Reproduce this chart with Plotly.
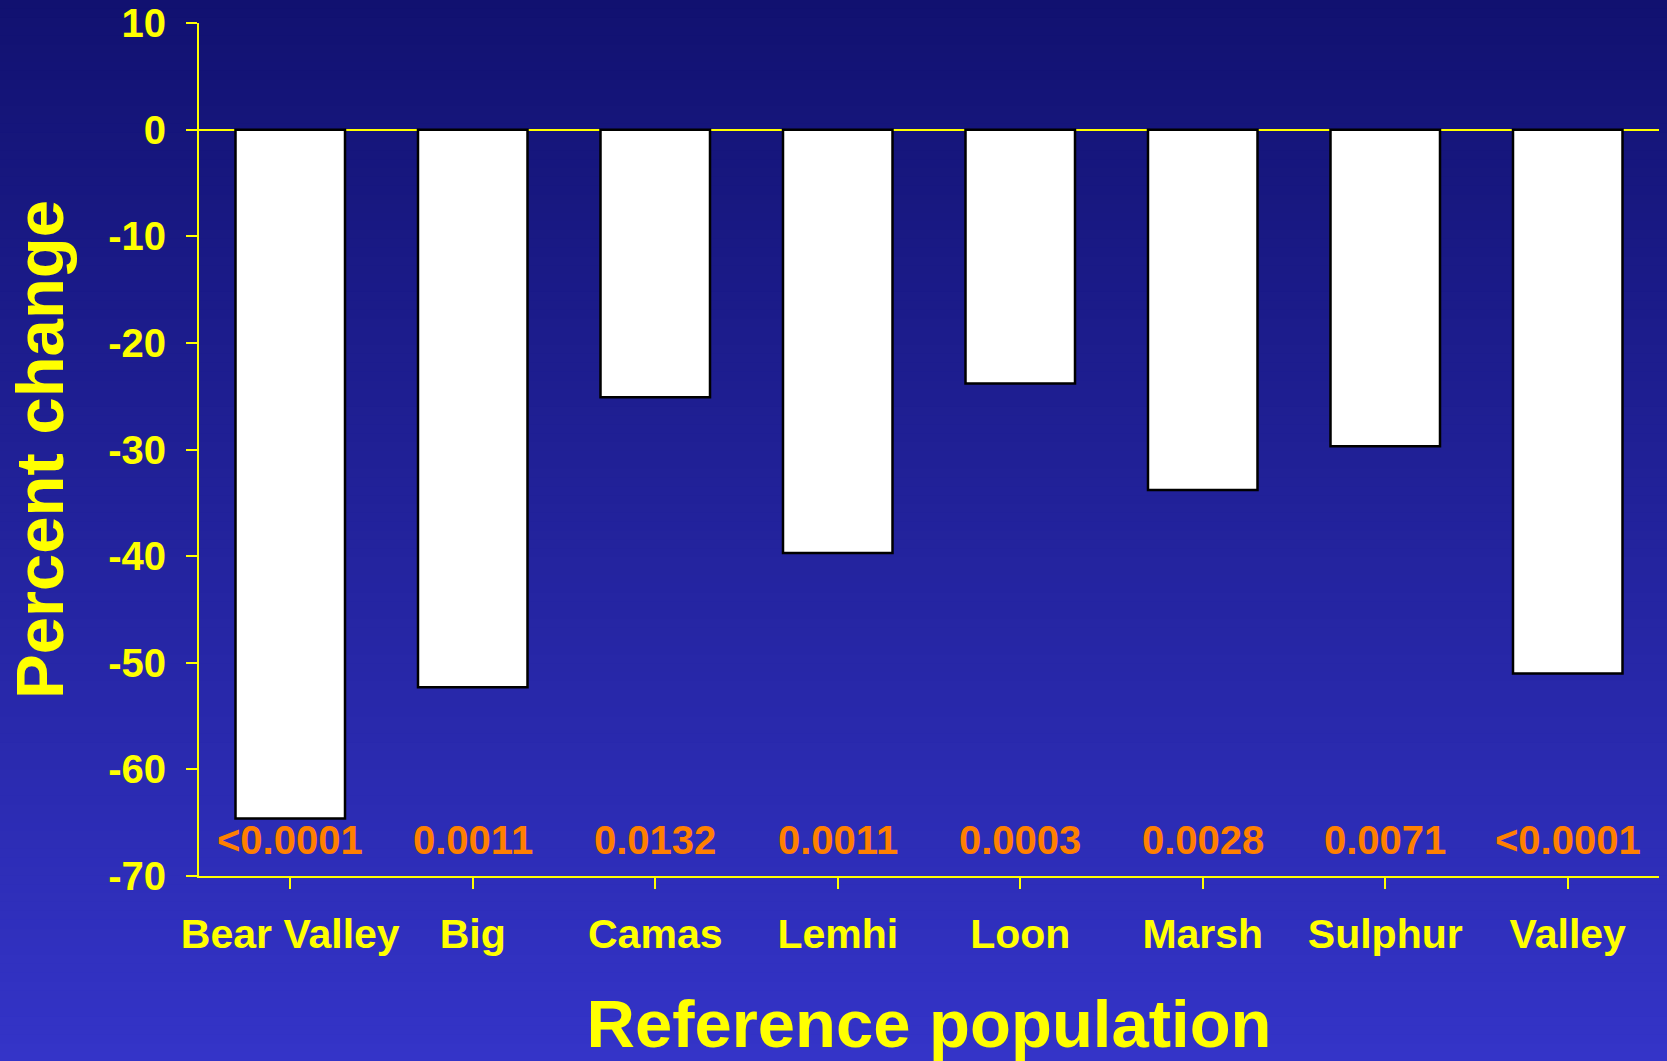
import plotly.graph_objects as go

# Percent change by reference population, with p-values
populations = ["Bear Valley", "Big", "Camas", "Lemhi", "Loon", "Marsh", "Sulphur", "Valley"]
percent_change = [-64.6, -52.3, -25.1, -39.7, -23.8, -33.8, -29.7, -51.0]
p_values = ["<0.0001", "0.0011", "0.0132", "0.0011", "0.0003", "0.0028", "0.0071", "<0.0001"]
y_ticks = [10, 0, -10, -20, -30, -40, -50, -60, -70]
y_tick_text = ["10", "0", "-10", "-20", "-30", "-40", "-50", "-60", "-70"]

YELLOW = "#FFFF00"
ORANGE = "#FF8000"
FONT = "Arial, Liberation Sans, Helvetica, sans-serif"

W, H = 1667, 1061
M_L, M_R, M_T, M_B = 199, 8, 23, 185

fig = go.Figure()
fig.add_trace(go.Bar(
    x=populations,
    y=percent_change,
    width=0.6,
    marker=dict(color="white", line=dict(color="black", width=2.5)),
    hoverinfo="x+y",
))

# p-value labels just above the baseline
for pop, p in zip(populations, p_values):
    fig.add_annotation(
        x=pop, y=-66.6, text=p, showarrow=False,
        font=dict(family=FONT, size=40, color=ORANGE, weight="bold"),
        xanchor="center", yanchor="middle",
    )

# vertical background gradient, dark navy at the top to royal blue at the bottom
top_rgb = (17, 17, 112)
bot_rgb = (52, 52, 200)
plot_h = H - M_T - M_B
plot_w = W - M_L - M_R
n_bands = 120
shapes = []
for i in range(n_bands):
    py0 = H * i / n_bands - (2 if i == 0 else 0)
    py1 = H * (i + 1) / n_bands + 2
    t = (i + 0.5) / n_bands
    c = tuple(round(a + (b - a) * t) for a, b in zip(top_rgb, bot_rgb))
    shapes.append(dict(
        type="rect", xref="paper", yref="paper",
        x0=-(M_L + 5) / plot_w, x1=1 + (M_R + 5) / plot_w,
        y0=(H - M_B - py1) / plot_h, y1=(H - M_B - py0) / plot_h,
        fillcolor="rgb(%d,%d,%d)" % c, line=dict(width=0), layer="below",
    ))

fig.update_layout(
    width=W, height=H,
    margin=dict(l=M_L, r=M_R, t=M_T, b=M_B, autoexpand=False),
    paper_bgcolor="rgb(40,40,160)",
    plot_bgcolor="rgba(0,0,0,0)",
    shapes=shapes,
    showlegend=False,
    bargap=0.4,
    font=dict(family=FONT, color=YELLOW),
)

fig.update_xaxes(
    automargin=False,
    title=dict(text="Reference population",
               font=dict(family=FONT, size=67, color=YELLOW, weight="bold"),
               standoff=46),
    tickfont=dict(family=FONT, size=41, color=YELLOW, weight="bold"),
    showline=True, linecolor=YELLOW, linewidth=2,
    ticks="outside", ticklen=11, tickwidth=2, tickcolor=YELLOW,
    ticklabelstandoff=10,
    showgrid=False, zeroline=False,
)

fig.update_yaxes(
    automargin=False,
    range=[-70, 10],
    tickvals=y_ticks,
    ticktext=y_tick_text,
    title=dict(text="Percent change",
               font=dict(family=FONT, size=67, color=YELLOW, weight="bold"),
               standoff=23),
    tickfont=dict(family=FONT, size=40, color=YELLOW, weight="bold"),
    showline=True, linecolor=YELLOW, linewidth=2,
    ticks="outside", ticklen=11, tickwidth=2, tickcolor=YELLOW,
    ticklabelstandoff=12,
    showgrid=False,
    zeroline=True, zerolinecolor=YELLOW, zerolinewidth=2,
)

fig.write_html("out.html")
